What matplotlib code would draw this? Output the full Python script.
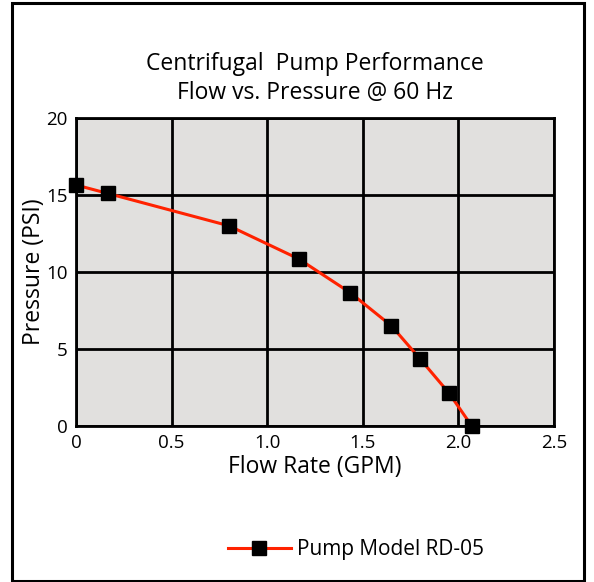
import matplotlib
matplotlib.use("Agg")
import matplotlib.pyplot as plt
from matplotlib.patches import Rectangle

flow_gpm = [0.0, 0.167, 0.80, 1.165, 1.435, 1.65, 1.80, 1.95, 2.07]
pressure_psi = [15.65, 15.1, 13.0, 10.85, 8.65, 6.5, 4.35, 2.15, 0.0]
x_ticks = [0, 0.5, 1.0, 1.5, 2.0, 2.5]
x_tick_labels = ["0", "0.5", "1.0", "1.5", "2.0", "2.5"]
y_ticks = [0, 5, 10, 15, 20]
y_tick_labels = ["0", "5", "10", "15", "20"]
series_name = "Pump Model RD-05"

plt.rcParams['font.family'] = ['Open Sans', 'DejaVu Sans']

W, H = 594, 582
fig = plt.figure(figsize=(W / 100, H / 100), dpi=100)
fig.patch.set_facecolor('white')

# outer frame
fig.patches.append(Rectangle((12 / W, 1 - 581 / H), (584 - 12) / W, (581 - 3) / H,
                             transform=fig.transFigure, fill=False,
                             edgecolor='black', linewidth=2.2, zorder=0))

ax = fig.add_axes([76 / W, 1 - 426 / H, (554 - 76) / W, (426 - 118) / H])
ax.set_facecolor('#e1e0de')
ax.set_xlim(0, 2.5)
ax.set_ylim(0, 20)
ax.set_xticks(x_ticks)
ax.set_xticklabels(x_tick_labels)
ax.set_yticks(y_ticks)
ax.set_yticklabels(y_tick_labels)
ax.tick_params(length=0, labelsize=13.5, pad=6)
ax.grid(True, color='black', linewidth=2.0)
ax.set_axisbelow(True)
for s in ax.spines.values():
    s.set_linewidth(2.0)
    s.set_color('black')

line, = ax.plot(flow_gpm, pressure_psi, color='#ff2200', linewidth=2.2,
                marker='s', markersize=10, markerfacecolor='black',
                markeredgecolor='black', zorder=5, clip_on=False)

ax.set_xlabel("Flow Rate (GPM)", fontsize=16.5, labelpad=2)
ax.set_ylabel("Pressure (PSI)", fontsize=16.5, labelpad=0)
ax.set_title("Centrifugal  Pump Performance\nFlow vs. Pressure @ 60 Hz",
             fontsize=16.5, pad=14, linespacing=1.25)

fig.legend([line], [series_name], loc='center',
           bbox_to_anchor=(356 / W, 1 - 550 / H), frameon=False,
           fontsize=15, handlelength=3.0, handletextpad=0.3)

fig.savefig("out.png", dpi=100)
